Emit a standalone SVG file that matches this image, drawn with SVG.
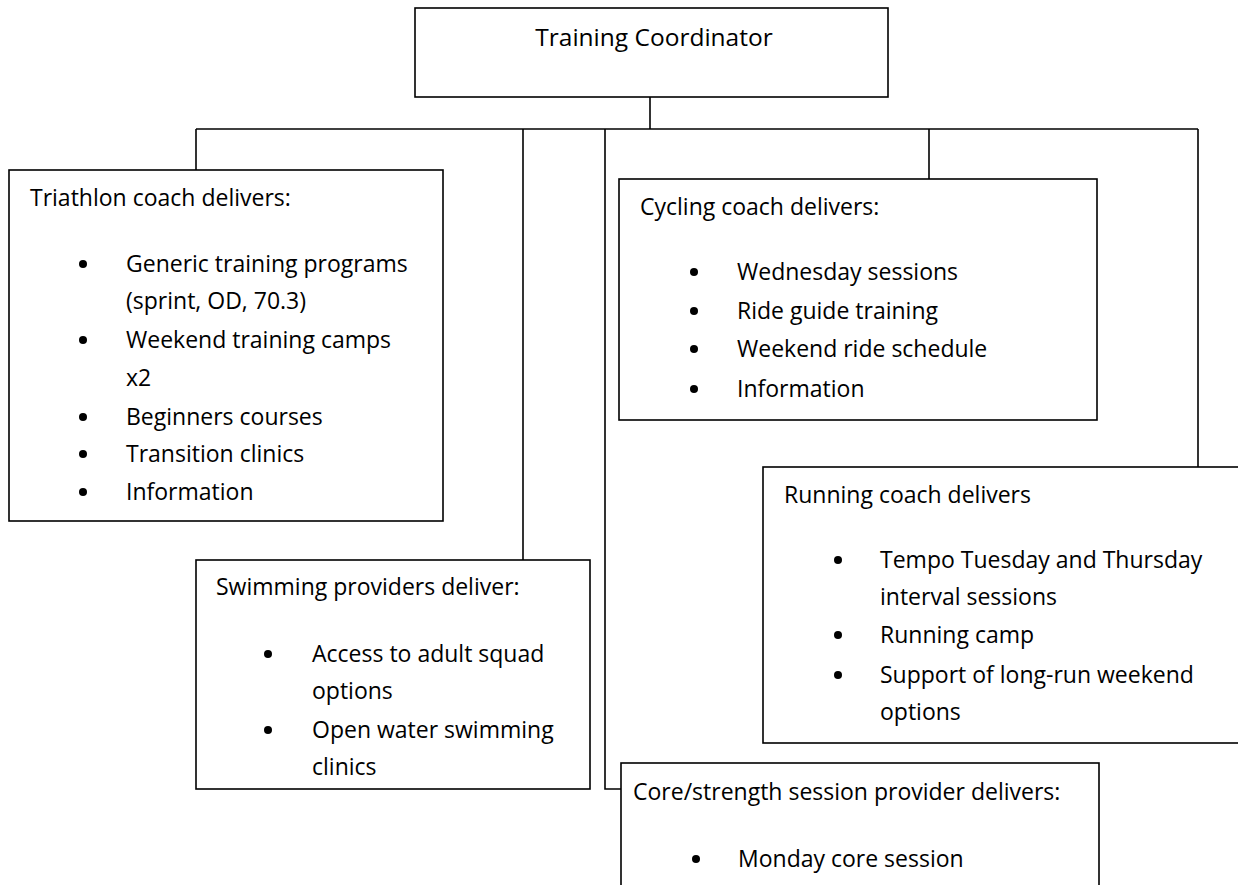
<svg xmlns="http://www.w3.org/2000/svg" width="1238" height="885" viewBox="0 0 1238 885">
<style>
.box{fill:#fff;stroke:#000;stroke-width:1.6}
.conn{fill:none;stroke:#000;stroke-width:1.6}
text{font-family:"Open Sans","Noto Sans","Liberation Sans",sans-serif;font-size:23px;fill:#000}
.title{font-size:24.5px}
.b{fill:#000}
</style>
<rect width="1238" height="885" fill="#fff"/>
<g id="connectors">
<path class="conn" d="M650 97V129"/>
<path class="conn" d="M196 129H1198"/>
<path class="conn" d="M196 129V170"/>
<path class="conn" d="M523 129V560"/>
<path class="conn" d="M605 129V789H621"/>
<path class="conn" d="M929 129V179"/>
<path class="conn" d="M1198 129V467"/>
</g>
<g id="coordinator">
<rect class="box" x="415" y="8" width="473" height="89"/>
<text class="title" x="654" y="46" text-anchor="middle">Training Coordinator</text>
</g>
<g id="triathlon">
<rect class="box" x="9" y="170" width="434" height="351"/>
<text x="30" y="206">Triathlon coach delivers:</text>
<circle class="b" cx="83" cy="264" r="4"/>
<text x="126" y="272">Generic training programs</text>
<text x="126" y="309">(sprint, OD, 70.3)</text>
<circle class="b" cx="83" cy="340" r="4"/>
<text x="126" y="348">Weekend training camps</text>
<text x="126" y="386">x2</text>
<circle class="b" cx="83" cy="417" r="4"/>
<text x="126" y="425">Beginners courses</text>
<circle class="b" cx="83" cy="454" r="4"/>
<text x="126" y="462">Transition clinics</text>
<circle class="b" cx="83" cy="492" r="4"/>
<text x="126" y="500">Information</text>
</g>
<g id="cycling">
<rect class="box" x="619" y="179" width="478" height="241"/>
<text x="640" y="215">Cycling coach delivers:</text>
<circle class="b" cx="694" cy="272" r="4"/>
<text x="737" y="280">Wednesday sessions</text>
<circle class="b" cx="694" cy="311" r="4"/>
<text x="737" y="319">Ride guide training</text>
<circle class="b" cx="694" cy="349" r="4"/>
<text x="737" y="357">Weekend ride schedule</text>
<circle class="b" cx="694" cy="389" r="4"/>
<text x="737" y="397">Information</text>
</g>
<g id="swimming">
<rect class="box" x="196" y="560" width="394" height="229"/>
<text x="216" y="595">Swimming providers deliver:</text>
<circle class="b" cx="268" cy="654" r="4"/>
<text x="312" y="662">Access to adult squad</text>
<text x="312" y="699">options</text>
<circle class="b" cx="268" cy="730" r="4"/>
<text x="312" y="738">Open water swimming</text>
<text x="312" y="775">clinics</text>
</g>
<g id="running">
<rect class="box" x="763" y="467" width="482" height="276"/>
<text x="784" y="503">Running coach delivers</text>
<circle class="b" cx="838" cy="560" r="4"/>
<text x="880" y="568">Tempo Tuesday and Thursday</text>
<text x="880" y="605">interval sessions</text>
<circle class="b" cx="838" cy="635" r="4"/>
<text x="880" y="643">Running camp</text>
<circle class="b" cx="838" cy="675" r="4"/>
<text x="880" y="683">Support of long-run weekend</text>
<text x="880" y="720">options</text>
</g>
<g id="core">
<rect class="box" x="621" y="763" width="478" height="130"/>
<text x="633" y="800">Core/strength session provider delivers:</text>
<circle class="b" cx="696" cy="859" r="4"/>
<text x="738" y="867">Monday core session</text>
</g>
</svg>
